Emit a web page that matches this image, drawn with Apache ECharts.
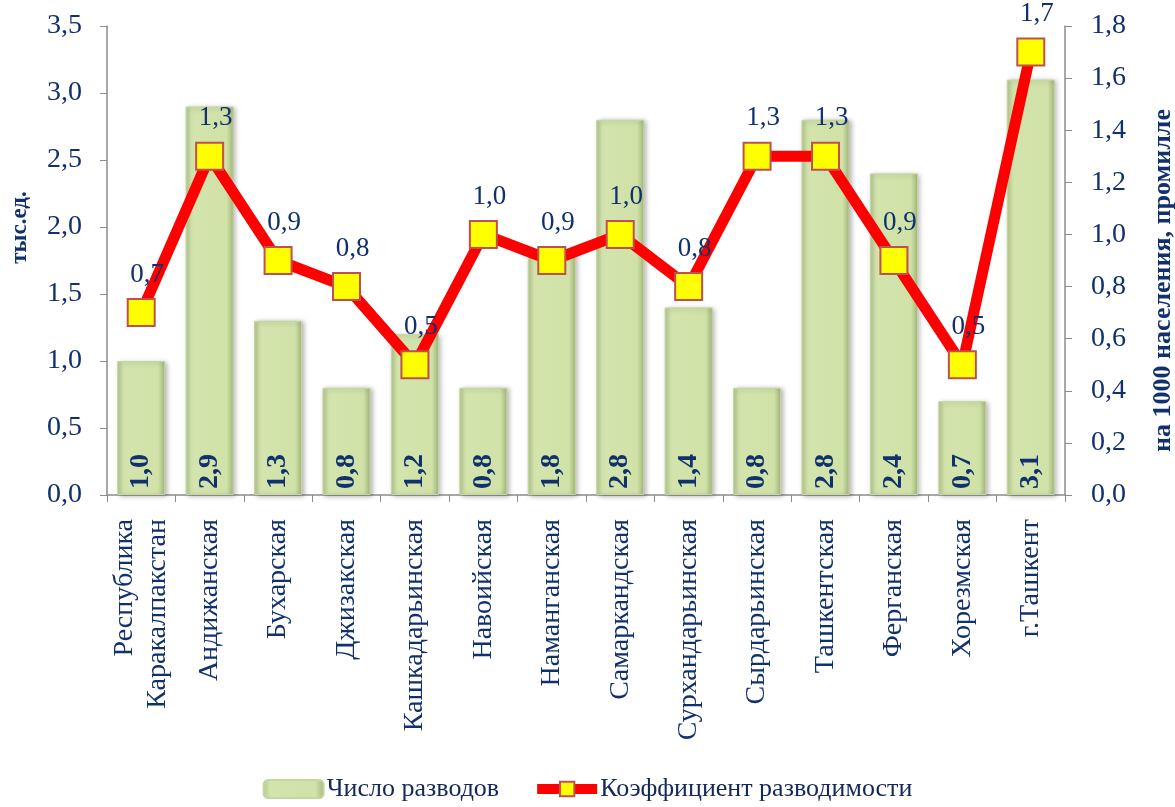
<!DOCTYPE html>
<html>
<head>
<meta charset="utf-8">
<script src="https://cdn.jsdelivr.net/npm/echarts@6/dist/echarts.min.js"></script>
<style>
  html, body { margin: 0; padding: 0; background: #fff; }
  #chart { width: 1175px; height: 807px; }
</style>
</head>
<body>
<div id="chart"></div>
<script>
// регионы
const regions = ['Республика\nКаракалпакстан', 'Андижанская', 'Бухарская', 'Джизакская', 'Кашкадарьинская',
    'Навоийская', 'Наманганская', 'Самаркандская', 'Сурхандарьинская', 'Сырдарьинская',
    'Ташкентская', 'Ферганская', 'Хорезмская', 'г.Ташкент'];
// число разводов, тыс.ед.
const divorces = [1.0, 2.9, 1.3, 0.8, 1.2, 0.8, 1.8, 2.8, 1.4, 0.8, 2.8, 2.4, 0.7, 3.1];
// коэффициент разводимости, на 1000 населения
const divorceRate = [0.7, 1.3, 0.9, 0.8, 0.5, 1.0, 0.9, 1.0, 0.8, 1.3, 1.3, 0.9, 0.5, 1.7];

const navy = '#10306E';
const font = '"Liberation Serif", "Times New Roman", serif';
const comma = v => v.toFixed(1).replace('.', ',');

const myChart = echarts.init(document.getElementById('chart'));
const option = {
    textStyle: { fontFamily: font, color: navy },
    grid: { left: 107, right: 110, top: 26, bottom: 312, outerBoundsMode: 'none', containLabel: false },
    legend: {
        bottom: 0,
        left: 'center',
        itemGap: 33,
        itemWidth: 60,
        itemHeight: 18,
        textStyle: { fontFamily: font, fontSize: 26, color: '#14285A', padding: [0, 0, 0, -2] },
        data: [
            { name: 'Число разводов' },
            { name: 'Коэффициент разводимости', lineStyle: { width: 10, color: '#FF0000' } }
        ]
    },
    xAxis: {
        type: 'category',
        data: regions,
        axisLine: { lineStyle: { color: '#8c8c8c', width: 1.5 } },
        axisTick: { show: true, length: 7, lineStyle: { color: '#8c8c8c' } },
        axisLabel: {
            rotate: 90,
            interval: 0,
            margin: 24,
            fontSize: 28,
            lineHeight: 33,
            color: navy,
            fontFamily: font
        }
    },
    yAxis: [
        {
            type: 'value',
            min: 0,
            max: 3.5,
            interval: 0.5,
            name: 'тыс.ед.',
            nameLocation: 'middle',
            nameGap: 75,
            nameTextStyle: { fontSize: 23, fontWeight: 'bold', color: navy, fontFamily: font, padding: [0, 0, 0, 66] },
            splitLine: { show: false },
            axisLine: { show: true, lineStyle: { color: '#8c8c8c', width: 1.5 } },
            axisTick: { show: true, length: 7, lineStyle: { color: '#8c8c8c' } },
            axisLabel: { fontSize: 28, color: navy, fontFamily: font, margin: 25, formatter: comma }
        },
        {
            type: 'value',
            min: 0,
            max: 1.8,
            interval: 0.2,
            name: 'на 1000 населения, промилле',
            nameLocation: 'middle',
            nameGap: 85,
            nameRotate: 90,
            nameTextStyle: { fontSize: 26, fontWeight: 'bold', color: navy, fontFamily: font, padding: [0, 40, 0, 0] },
            splitLine: { show: false },
            axisLine: { show: true, lineStyle: { color: '#8c8c8c', width: 1.5 } },
            axisTick: { show: true, length: 7, lineStyle: { color: '#8c8c8c' } },
            axisLabel: { fontSize: 28, color: navy, fontFamily: font, margin: 26, formatter: comma }
        }
    ],
    series: [
        {
            name: 'Число разводов',
            type: 'bar',
            yAxisIndex: 0,
            data: divorces,
            barWidth: 48,
            itemStyle: {
                color: new echarts.graphic.LinearGradient(0, 0, 1, 0, [
                    { offset: 0, color: '#B4C78D' },
                    { offset: 0.12, color: '#D3E4AC' },
                    { offset: 0.85, color: '#D0E2A8' },
                    { offset: 1, color: '#A3B67C' }
                ]),
                borderColor: '#C5D69E',
                borderWidth: 1,
                shadowColor: 'rgba(0,0,0,0.3)',
                shadowBlur: 5,
                shadowOffsetX: 2,
                shadowOffsetY: 1
            },
            label: {
                show: true,
                position: 'insideBottom',
                rotate: 90,
                align: 'left',
                verticalAlign: 'middle',
                distance: 6,
                fontSize: 28,
                fontWeight: 'bold',
                color: navy,
                fontFamily: font,
                formatter: p => comma(p.value)
            }
        },
        {
            name: 'Коэффициент разводимости',
            type: 'line',
            yAxisIndex: 1,
            data: divorceRate,
            symbol: 'rect',
            symbolSize: 27,
            z: 5,
            lineStyle: { color: '#FF0000', width: 11 },
            itemStyle: { color: '#FFFF00', borderColor: '#C0504D', borderWidth: 2 },
            label: {
                show: true,
                position: 'top',
                distance: 10,
                offset: [6, 0],
                fontSize: 27,
                color: navy,
                fontFamily: font,
                formatter: p => comma(p.value)
            }
        }
    ]
};

myChart.setOption(option);
</script>
</body>
</html>
